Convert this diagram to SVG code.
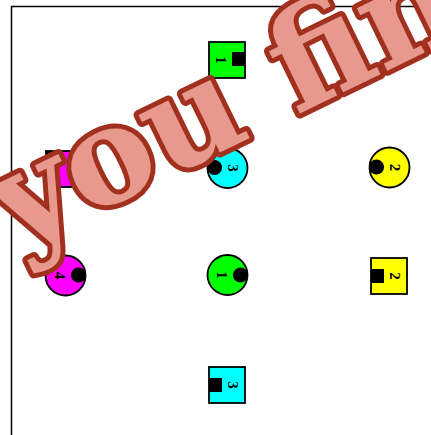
<svg xmlns="http://www.w3.org/2000/svg" width="431" height="435" viewBox="0 0 431 435">
<style>
.n{stroke:#000;stroke-width:1.8}
.k{fill:#000;stroke:none}
.t{font-family:"Liberation Serif","DejaVu Serif",serif;font-size:15px;font-weight:bold;fill:#000;text-anchor:middle;dominant-baseline:central}
.wm{font-family:"DejaVu Serif",serif;font-weight:bold;font-size:134px;fill:#E8998D;stroke:#A2301F;stroke-width:10;stroke-linejoin:round;paint-order:stroke}
</style>
<rect x="11.5" y="6.5" width="600" height="600" fill="#fff" stroke="#000" stroke-width="1.5"/>
<g id="connectors"></g>
<g id="sq_green">
<rect class="n" x="209" y="42" width="36" height="36" fill="#00FF00"/>
<rect class="k" x="232" y="52" width="13" height="14"/>
<text class="t" transform="translate(221,60) rotate(90)">1</text>
</g>
<g id="sq_magenta">
<rect class="n" x="46" y="151" width="37" height="36" fill="#FF00FF"/>
<rect class="k" x="46" y="151" width="12" height="36"/>
<rect class="k" x="70" y="162" width="13" height="14"/>
</g>
<g id="ci_cyan">
<circle class="n" cx="227.5" cy="168" r="20" fill="#00FFFF"/>
<circle class="k" cx="214.5" cy="167.5" r="7.6"/>
<text class="t" transform="translate(233,168) rotate(90)">3</text>
</g>
<g id="ci_yellow">
<circle class="n" cx="389.5" cy="167.5" r="20" fill="#FFFF00"/>
<circle class="k" cx="376.5" cy="167" r="7.6"/>
<text class="t" transform="translate(395,167.5) rotate(90)">2</text>
</g>
<g id="ci_magenta">
<circle class="n" cx="65.5" cy="275.5" r="20" fill="#FF00FF"/>
<circle class="k" cx="78.5" cy="275" r="7.6"/>
<text class="t" transform="translate(60,275.5) rotate(90)">4</text>
</g>
<g id="ci_green">
<circle class="n" cx="227.5" cy="275" r="20" fill="#00FF00"/>
<circle class="k" cx="240.5" cy="275" r="7.6"/>
<text class="t" transform="translate(222,275) rotate(90)">1</text>
</g>
<g id="sq_yellow">
<rect class="n" x="371" y="258" width="36" height="36" fill="#FFFF00"/>
<rect class="k" x="371" y="269" width="13" height="14"/>
<text class="t" transform="translate(395,276) rotate(90)">2</text>
</g>
<g id="sq_cyan">
<rect class="n" x="209" y="367" width="36" height="36" fill="#00FFFF"/>
<rect class="k" x="209" y="378" width="13" height="14"/>
<text class="t" transform="translate(233,385) rotate(90)">3</text>
</g>
<text class="wm" transform="translate(16,252) rotate(-26)">you fin</text>
</svg>
